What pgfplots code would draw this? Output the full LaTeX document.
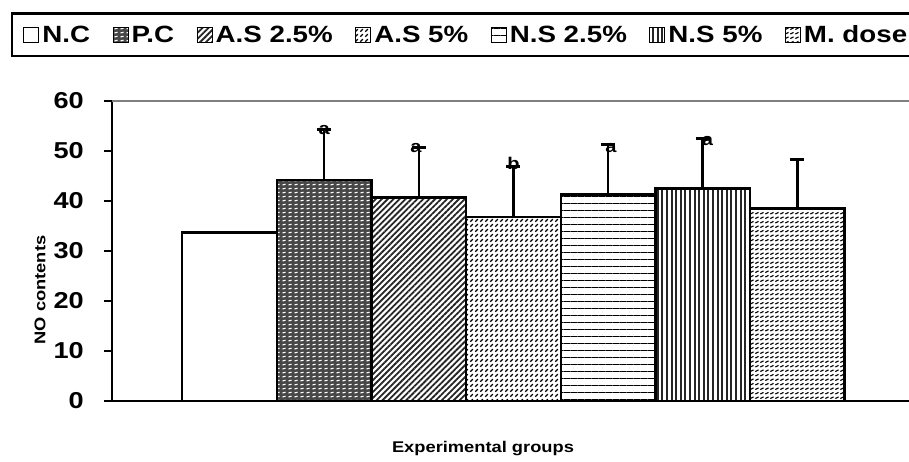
\documentclass[border=0pt]{standalone}
\usepackage{pgfplots}
\pgfplotsset{compat=1.18}
\usepackage{fontspec}
\setmainfont{Liberation Sans}[FakeStretch=1.18]
\usetikzlibrary{patterns,patterns.meta}
\pgfdeclarepatternformonly{pcdash}{\pgfqpoint{-1pt}{-1pt}}{\pgfqpoint{7pt}{5pt}}{\pgfqpoint{6pt}{4pt}}{%
 \pgfsetlinewidth{1.1pt}\pgfpathmoveto{\pgfqpoint{0.5pt}{1pt}}\pgfpathlineto{\pgfqpoint{3.5pt}{1.8pt}}\pgfusepath{stroke}}
\pgfdeclarepatternformonly{asdash}{\pgfqpoint{-1pt}{-1pt}}{\pgfqpoint{6pt}{6pt}}{\pgfqpoint{5pt}{5pt}}{%
 \pgfsetlinewidth{1.3pt}\pgfpathmoveto{\pgfqpoint{0.3pt}{0.3pt}}\pgfpathlineto{\pgfqpoint{2.8pt}{2.8pt}}\pgfusepath{stroke}}
\pgfdeclarepatternformonly{mddash}{\pgfqpoint{-1pt}{-1pt}}{\pgfqpoint{6pt}{5.5pt}}{\pgfqpoint{5pt}{4.5pt}}{%
 \pgfsetlinewidth{1.1pt}\pgfpathmoveto{\pgfqpoint{0.3pt}{0.5pt}}\pgfpathlineto{\pgfqpoint{3.5pt}{2.1pt}}\pgfusepath{stroke}}
\pgfplotsset{
  myerr/.style={error bars/.cd, y dir=plus, y explicit,
    error bar style={line width=2.6pt, black},
    error mark options={rotate=90, mark size=7pt, line width=2.4pt, black}},
  barst/.style={draw=black, line width=2.4pt, bar shift=0pt}}
\newcommand{\lf}{\bfseries\fontsize{23.5}{26}\selectfont}
\begin{document}
\begin{tikzpicture}
\useasboundingbox (-112pt,-61pt) rectangle (797pt,401pt);
\begin{axis}[
  scale only axis, width=797pt, height=300pt,
  xmin=-1.242, xmax=7.18, ymin=0, ymax=60,
  ytick={0,10,...,60}, xtick=\empty,
  axis x line*=bottom, axis y line*=left,
  axis line style={-, line width=2.2pt, black},
  tick align=outside, major tick length=8pt,
  tick style={line width=2pt, black},
  yticklabel style={font=\bfseries\fontsize{23}{26}\selectfont, /pgf/number format/assume math mode=true, inner sep=0pt, xshift=-20pt},
  extra y ticks={60}, extra y tick labels={},
  extra y tick style={grid=major, major grid style={gray, line width=1.5pt}, major tick length=0pt},
  ybar, bar width=1,
  xlabel={Experimental groups},
  xlabel style={at={(axis description cs:0.4655,-0.157)}, anchor=center, font=\bfseries\fontsize{15.5}{18}\selectfont},
  ylabel={NO contents},
  ylabel style={at={(axis description cs:-0.0903,0.37)}, anchor=center, font=\bfseries\fontsize{15.5}{18}\selectfont},
  legend columns=-1,
  legend style={at={(axis description cs:-0.1265,1.295)}, anchor=north west, draw=black, line width=2.2pt,
    font=\lf, inner ysep=10pt, inner xsep=11pt,
    nodes={inner xsep=0pt, inner ysep=2pt},
    /tikz/every odd column/.append style={column sep=3pt},
    /tikz/every even column/.append style={column sep=22.5pt}},
  legend image code/.code={\draw[#1, line width=1pt] (0pt,-7.5pt) rectangle (15pt,7.5pt);},
]
\addplot[barst, fill=white] coordinates {(0,33.7)};
\addlegendentry{\lf N.C}
\addplot[barst, fill=black!72, postaction={pattern=pcdash, pattern color=white}, myerr] coordinates {(1,44.2) +- (0,10.1)};
\addlegendentry{\lf P.C}
\addplot[barst, fill=white, postaction={pattern={Lines[angle=45,distance=4.2pt,line width=1.8pt]}, pattern color=black!85}, myerr] coordinates {(2,40.7) +- (0,10.0)};
\addlegendentry{\lf A.S 2.5\%}
\addplot[barst, fill=white, postaction={pattern=asdash, pattern color=black}, myerr] coordinates {(3,36.8) +- (0,10.1)};
\addlegendentry{\lf A.S 5\%}
\addplot[barst, fill=white, postaction={pattern={Lines[angle=0,distance=7pt,line width=0.8pt]}, pattern color=black}, myerr] coordinates {(4,41.3) +- (0,10.0)};
\addlegendentry{\lf N.S 2.5\%}
\addplot[barst, fill=white, postaction={pattern={Lines[angle=90,distance=4.6pt,line width=2pt]}, pattern color=black!85}, myerr] coordinates {(5,42.5) +- (0,10.0)};
\addlegendentry{\lf N.S 5\%}
\addplot[barst, fill=white, postaction={pattern=mddash, pattern color=black}, myerr] coordinates {(6,38.5) +- (0,9.8)};
\addlegendentry{\lf M. dose}
\begin{scope}[font=\bfseries\fontsize{17}{17}\selectfont]
\node at (axis cs:1,54.2) {a};
\node at (axis cs:1.97,50.6) {a};
\node at (axis cs:3.0,47.6) {b};
\node at (axis cs:4.03,50.6) {a};
\node at (axis cs:5.05,52) {a};
\end{scope}
\end{axis}
\end{tikzpicture}
\end{document}
